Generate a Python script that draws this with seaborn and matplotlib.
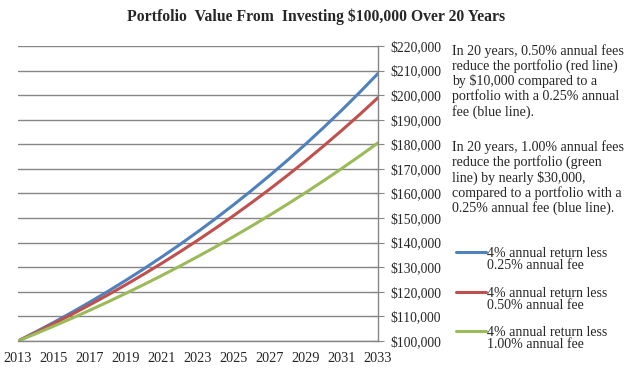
import numpy as np
import pandas as pd
import matplotlib
matplotlib.use("Agg")
import matplotlib.pyplot as plt
import seaborn as sns

# values (portfolio value per year)
years = list(range(2013, 2034))
fee_025 = [100000, 103750, 107640, 111680, 115870, 120210, 124720, 129400, 134250, 139280,
           144500, 149920, 155550, 161380, 167430, 173710, 180220, 186980, 193990, 201270, 208820]
fee_050 = [100000, 103500, 107120, 110870, 114750, 118770, 122930, 127230, 131680, 136290,
           141060, 146000, 151110, 156400, 161870, 167540, 173400, 179470, 185750, 192250, 198980]
fee_100 = [100000, 103000, 106090, 109270, 112550, 115930, 119410, 122990, 126680, 130480,
           134390, 138420, 142580, 146850, 151260, 155800, 160470, 165290, 170240, 175350, 180610]
series_names = ["4% annual return less\n0.25% annual fee",
                "4% annual return less\n0.50% annual fee",
                "4% annual return less\n1.00% annual fee"]
colors = ["#4F81BD", "#C0504D", "#9BBB59"]

df = pd.DataFrame({"Year": years, series_names[0]: fee_025,
                   series_names[1]: fee_050, series_names[2]: fee_100})
long = df.melt(id_vars="Year", var_name="Series", value_name="Value")

sns.set_style("white")
plt.rcParams['font.family'] = ['Liberation Serif', 'DejaVu Serif']

W, H = 633, 372
fig = plt.figure(figsize=(W / 100, H / 100), dpi=100)
ax = fig.add_axes([18 / W, 1 - 341 / H, 360 / W, 295 / H])

sns.lineplot(data=long, x="Year", y="Value", hue="Series", palette=colors,
             linewidth=2.2, ax=ax, legend=False)

ax.set_xlim(2013, 2033)
ax.set_ylim(100000, 220000)
ax.set_xticks(range(2013, 2034, 2))
ax.set_yticks(range(100000, 220001, 10000))
ax.yaxis.tick_right()
ax.yaxis.set_major_formatter(matplotlib.ticker.FuncFormatter(lambda v, p: f"${v:,.0f}"))
ax.grid(axis='y', color='#868686', linewidth=1)
ax.set_axisbelow(True)
for s in ['top', 'left']:
    ax.spines[s].set_visible(False)
for s in ['right', 'bottom']:
    ax.spines[s].set_color('#868686')
    ax.spines[s].set_linewidth(1)
ax.tick_params(axis='y', which='major', direction='inout', length=8, color='#868686',
               labelsize=9.8, pad=5)
ax.tick_params(axis='x', which='major', direction='out', length=4, color='#868686',
               labelsize=10.3, pad=4)
ax.set_xlabel("")
ax.set_ylabel("")

fig.text(0.5, 1 - 17 / H, "Portfolio  Value From  Investing $100,000 Over 20 Years",
         ha='center', va='center', fontsize=11.3, fontweight='bold')

note1 = ("In 20 years, 0.50% annual fees\nreduce the portfolio (red line)\n"
         "by $10,000 compared to a\nportfolio with a 0.25% annual\nfee (blue line).")
note2 = ("In 20 years, 1.00% annual fees\nreduce the portfolio (green\n"
         "line) by nearly $30,000,\ncompared to a portfolio with a\n0.25% annual fee (blue line).")
fig.text(452 / W, 1 - 44 / H, note1, ha='left', va='top', fontsize=10.1, linespacing=1.12)
fig.text(452 / W, 1 - 140 / H, note2, ha='left', va='top', fontsize=10.1, linespacing=1.12)

# legend: handle sits on the first line of each two-line label
leg_y = [252, 292, 331]
for name, c, y in zip(series_names, colors, leg_y):
    fig.add_artist(matplotlib.lines.Line2D([456 / W, 486 / W], [1 - y / H, 1 - y / H],
                                           color=c, linewidth=2.2))
    fig.text(487 / W, 1 - (y - 5) / H, name, ha='left', va='top', fontsize=10,
             linespacing=0.92)

fig.savefig("out.png", dpi=100)
